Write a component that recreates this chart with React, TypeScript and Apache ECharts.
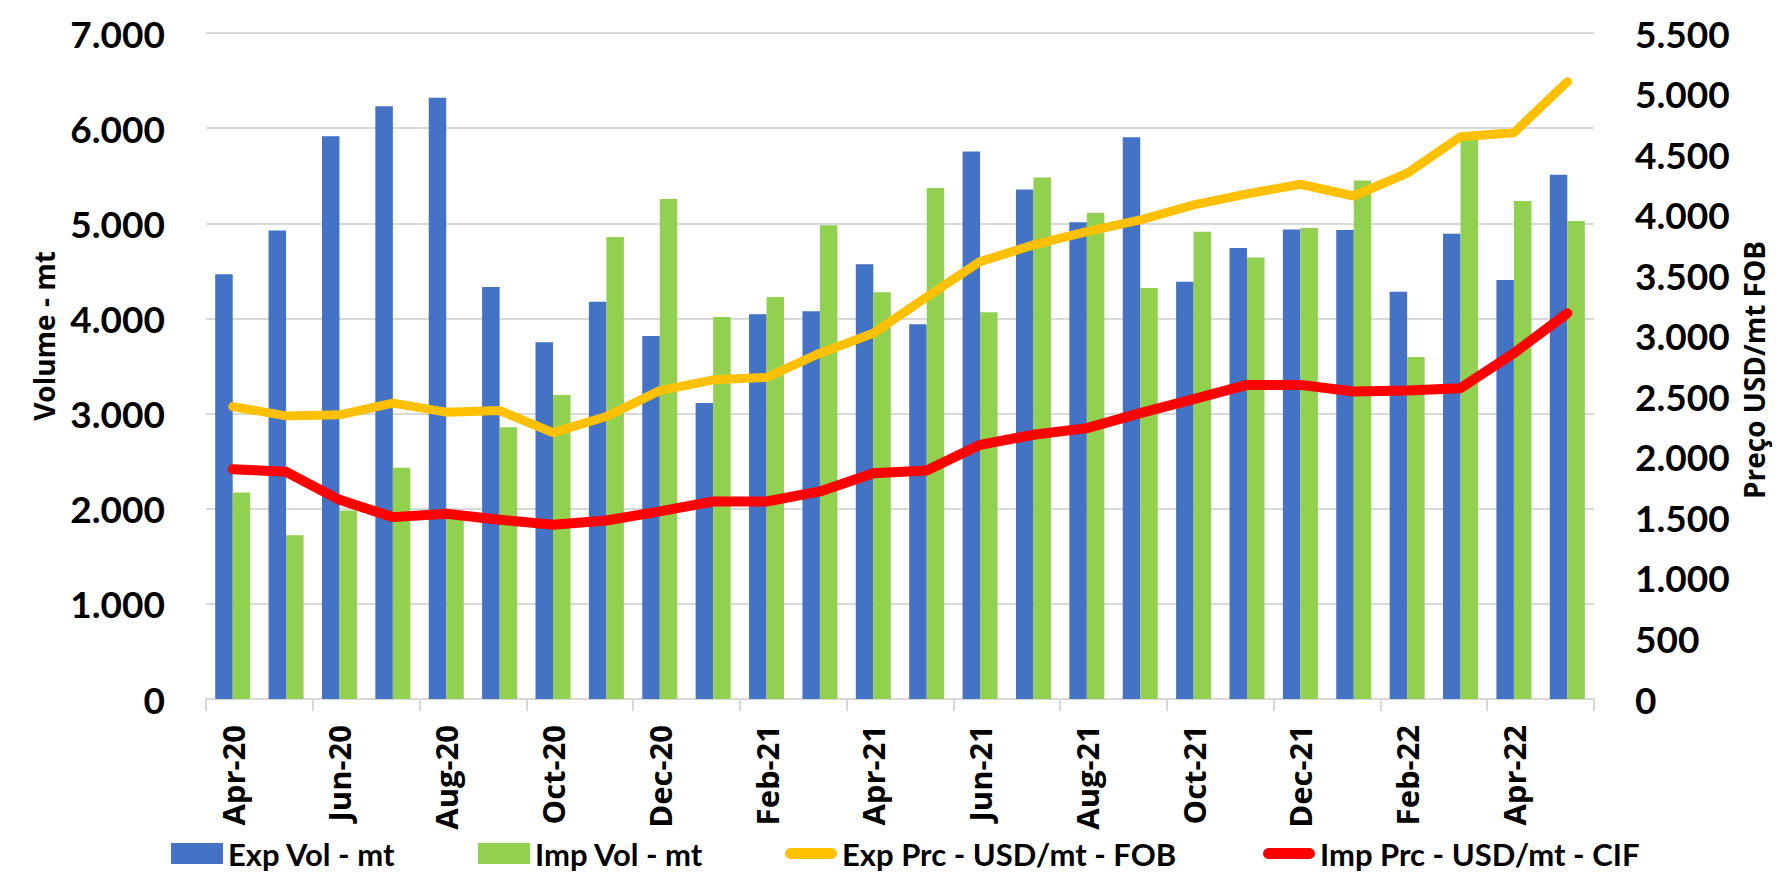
import React, { useEffect, useRef } from "react";
import * as echarts from "echarts";

const categories = [
  "Apr-20", "May-20", "Jun-20", "Jul-20", "Aug-20", "Sep-20", "Oct-20", "Nov-20", "Dec-20",
  "Jan-21", "Feb-21", "Mar-21", "Apr-21", "May-21", "Jun-21", "Jul-21", "Aug-21", "Sep-21",
  "Oct-21", "Nov-21", "Dec-21", "Jan-22", "Feb-22", "Mar-22", "Apr-22", "May-22",
];

const expVol = [4465, 4925, 5915, 6230, 6320, 4330, 3750, 4175, 3815, 3110, 4045, 4075, 4570, 3940, 5755, 5355, 5010, 5905, 4385, 4740, 4935, 4930, 4280, 4890, 4405, 5510];
const impVol = [2170, 1720, 1980, 2430, 1950, 2855, 3195, 4855, 5255, 4015, 4225, 4980, 4275, 5370, 4065, 5480, 5110, 4320, 4910, 4640, 4950, 5450, 3595, 5900, 5235, 5025];
const expPrc = [2415, 2338, 2347, 2443, 2369, 2382, 2200, 2333, 2547, 2636, 2655, 2856, 3021, 3320, 3612, 3750, 3860, 3956, 4080, 4171, 4251, 4154, 4342, 4644, 4677, 5098];
const impPrc = [1898, 1876, 1645, 1502, 1530, 1480, 1439, 1474, 1549, 1631, 1631, 1714, 1865, 1887, 2099, 2182, 2237, 2361, 2476, 2594, 2594, 2539, 2547, 2567, 2856, 3186];

const seriesNames = ["Exp Vol - mt", "Imp Vol - mt", "Exp Prc - USD/mt - FOB", "Imp Prc - USD/mt - CIF"];
const leftAxisTitle = "Volume - mt";
const rightAxisTitle = "Preço USD/mt FOB";

const COLORS = ["#4472C4", "#92D050", "#FFC000", "#FF0000"];
const GRID = "#D9D9D9";
const NUM_FONT = "Lato, 'Open Sans', sans-serif";
const LBL_FONT = "'Open Sans', 'DejaVu Sans', sans-serif";

const fmt = (v: number) => {
  if (v < 1000) return String(v);
  const t = Math.floor(v / 1000);
  const r = String(v % 1000).padStart(3, "0");
  return `${t}.${r}`;
};

const LINE_ICON = "path://M6,0 L52,0 A6,6 0 0 1 52,12 L6,12 A6,6 0 0 1 6,0 Z";

export default function App() {
  const ref = useRef<HTMLDivElement>(null);
  useEffect(() => {
    if (!ref.current) return;
    const chart = echarts.init(ref.current, undefined, { renderer: "svg" });
    const legendText = { fontFamily: NUM_FONT, fontWeight: "bold" as const, fontSize: 31, color: "#000", lineHeight: 31 };
    const legendLefts = [171, 478, 785, 1263];
    const legends = seriesNames.map((n, i) => ({
      left: legendLefts[i],
      top: 838,
      padding: 0,
      itemWidth: 52,
      itemHeight: 21,
      selectedMode: false,
      textStyle: legendText,
      data: [{ name: n, icon: i < 2 ? "rect" : LINE_ICON }],
    }));
    chart.setOption({
      animation: false,
      backgroundColor: "#fff",
      grid: { left: 206, right: 196, top: 33, bottom: 179, containLabel: false },
      legend: legends,
      graphic: [
        {
          type: "text",
          x: 44,
          y: 336,
          rotation: Math.PI / 2,
          style: {
            text: leftAxisTitle,
            fontFamily: LBL_FONT,
            fontWeight: "bold",
            fontSize: 28,
            fill: "#000",
            textAlign: "center",
            textVerticalAlign: "middle",
          },
        },
        {
          type: "text",
          x: 1754,
          y: 370,
          rotation: Math.PI / 2,
          style: {
            text: rightAxisTitle,
            fontFamily: LBL_FONT,
            fontWeight: "bold",
            fontSize: 28,
            fill: "#000",
            textAlign: "center",
            textVerticalAlign: "middle",
          },
        },
      ],
      xAxis: {
        type: "category",
        data: categories,
        boundaryGap: true,
        axisLine: { show: true, lineStyle: { color: GRID, width: 2 } },
        axisTick: { show: true, interval: 1, length: 12, lineStyle: { color: GRID, width: 2 } },
        axisLabel: {
          interval: 1,
          rotate: 90,
          margin: 26,
          fontFamily: LBL_FONT,
          fontWeight: "bold",
          fontSize: 31,
          color: "#000",
        },
      },
      yAxis: [
        {
          type: "value",
          min: 0,
          max: 7000,
          interval: 1000,
          axisLine: { show: false },
          axisTick: { show: false },
          splitLine: { show: true, lineStyle: { color: GRID, width: 2 } },
          axisLabel: {
            margin: 41,
            formatter: fmt,
            fontFamily: NUM_FONT,
            fontWeight: "bold",
            fontSize: 37,
            color: "#000",
          },
        },
        {
          type: "value",
          min: 0,
          max: 5500,
          interval: 500,
          axisLine: { show: false },
          axisTick: { show: false },
          splitLine: { show: false },
          axisLabel: {
            margin: 41,
            formatter: fmt,
            fontFamily: NUM_FONT,
            fontWeight: "bold",
            fontSize: 37,
            color: "#000",
          },
        },
      ],
      series: [
        {
          name: seriesNames[0],
          type: "bar",
          data: expVol,
          barWidth: 17.5,
          barGap: "0%",
          itemStyle: { color: COLORS[0] },
        },
        {
          name: seriesNames[1],
          type: "bar",
          data: impVol,
          barWidth: 17.5,
          barGap: "0%",
          itemStyle: { color: COLORS[1] },
        },
        {
          name: seriesNames[2],
          type: "line",
          yAxisIndex: 1,
          data: expPrc,
          symbol: "none",
          showSymbol: false,
          itemStyle: { color: COLORS[2] },
          lineStyle: { color: COLORS[2], width: 9, cap: "round", join: "round" },
        },
        {
          name: seriesNames[3],
          type: "line",
          yAxisIndex: 1,
          data: impPrc,
          symbol: "none",
          showSymbol: false,
          itemStyle: { color: COLORS[3] },
          lineStyle: { color: COLORS[3], width: 10, cap: "round", join: "round" },
        },
      ],
    });
    return () => chart.dispose();
  }, []);
  return (
    <div
      ref={ref}
      style={{ position: "fixed", left: 0, top: 0, width: 1790, height: 878, background: "#fff" }}
    />
  );
}
